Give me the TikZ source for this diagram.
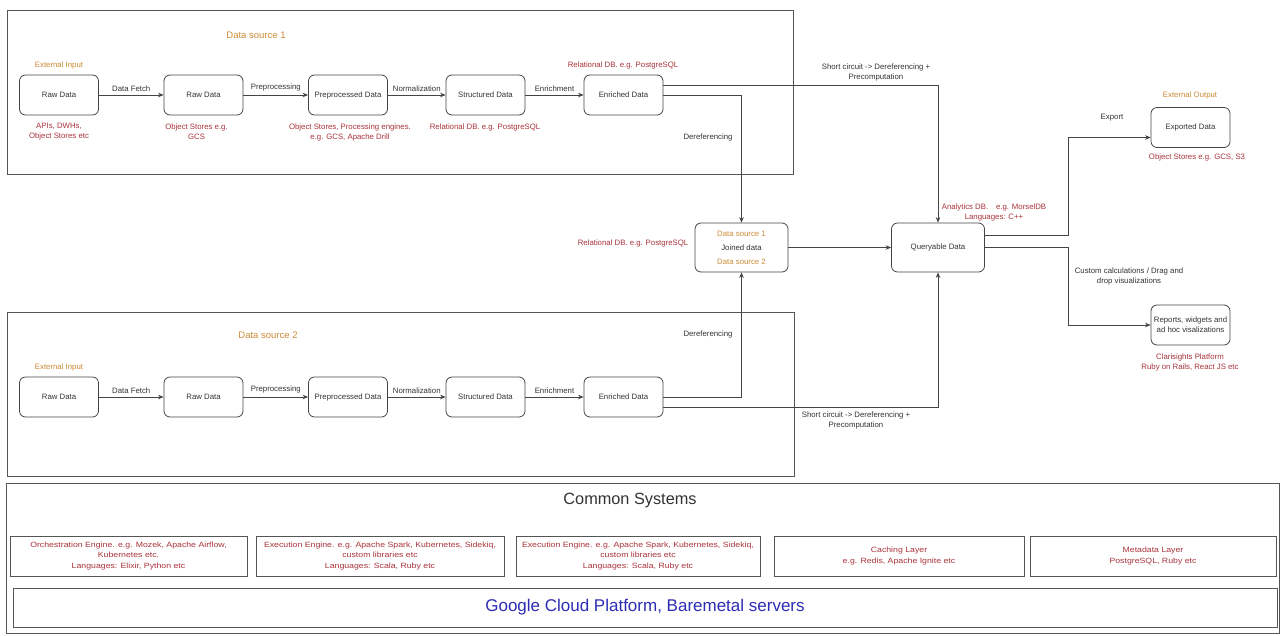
\documentclass[tikz,border=0pt]{standalone}
\usepackage{fontspec}
\setmainfont{Liberation Sans}
\newfontfamily\widesans[FakeStretch=1.15]{Liberation Sans}
\usetikzlibrary{arrows.meta}

\definecolor{linegray}{HTML}{444444}
\definecolor{framegray}{HTML}{555555}
\definecolor{textgray}{HTML}{333333}
\definecolor{srcorange}{HTML}{CC8A34}
\definecolor{techred}{HTML}{A8323A}
\definecolor{infrablue}{HTML}{2C2CB4}

\newcommand{\smalltxt}{\fontsize{7.8}{10}\selectfont}

\begin{document}
\begin{tikzpicture}[x=1pt, y=-1pt,
	frame/.style={draw=framegray, line width=0.9pt},
	databox/.style={draw=linegray, line width=0.8pt, rounded corners=6pt, minimum width=79pt, minimum height=40pt, inner sep=2pt, align=center, text=textgray, font=\smalltxt},
	hubbox/.style={databox, minimum width=93pt, minimum height=49pt},
	sysbox/.style={draw=framegray, line width=0.8pt, minimum height=40pt, inner sep=2pt, align=center, text=techred, font=\widesans\fontsize{7.6}{10.5}\selectfont},
	flow/.style={draw=linegray, line width=0.8pt, -{Stealth[length=5.5pt,width=4.5pt]}},
	steplabel/.style={above, text=textgray, font=\smalltxt, inner sep=3pt},
	plainlabel/.style={align=center, text=textgray, font=\smalltxt},
	techlabel/.style={align=center, text=techred, font=\smalltxt},
	inlabel/.style={text=srcorange, font=\smalltxt},
	srctitle/.style={text=srcorange, font=\fontsize{9.5}{11}\selectfont}]

	\useasboundingbox (0,0) rectangle (1281,635);

	% data source frames
	\draw[frame] (7,10) rectangle (793,174);
	\draw[frame] (7,312) rectangle (794,476);
	\node[srctitle] (title1) at (256,35) {Data source 1};
	\node[srctitle] (title2) at (268,335) {Data source 2};

	\foreach \s/\y in {1/95, 2/397} {
		% pipeline boxes
		\node[inlabel] (ext\s) at (59,\y-30) {External Input};
		\node[databox] (raw\s) at (59,\y) {Raw Data};
		\node[databox] (fetched\s) at (203.5,\y) {Raw Data};
		\node[databox] (prep\s) at (348,\y) {Preprocessed Data};
		\node[databox] (struct\s) at (485.5,\y) {Structured Data};
		\node[databox] (enr\s) at (623.5,\y) {Enriched Data};

		% pipeline steps
		\draw[flow] (raw\s) -- node[steplabel] {Data Fetch} (fetched\s);
		\draw[flow] (fetched\s) -- node[steplabel] {Preprocessing} (prep\s);
		\draw[flow] (prep\s) -- node[steplabel] {Normalization} (struct\s);
		\draw[flow] (struct\s) -- node[steplabel] {Enrichment} (enr\s);
	}

	% storage notes, source 1
	\node[techlabel] (apis) at (59,132) {APIs, DWHs,\\Object Stores etc};
	\node[techlabel] (objgcs) at (196.5,132) {Object Stores e.g.\\GCS};
	\node[techlabel] (objdrill) at (350,132) {Object Stores, Processing engines.\\e.g. GCS, Apache Drill};
	\node[techlabel] (relstruct) at (485,127) {Relational DB. e.g. PostgreSQL};
	\node[techlabel] (relenr) at (623,65) {Relational DB. e.g. PostgreSQL};

	% join and query
	\node[hubbox] (jd) at (741.5,247.5) {{\color{srcorange}Data source 1}\\[4pt]Joined data\\[4pt]{\color{srcorange}Data source 2}};
	\node[techlabel] (reljoin) at (633,243) {Relational DB. e.g. PostgreSQL};
	\node[hubbox] (qd) at (938,247.5) {Queryable Data};
	\node[techlabel] (analytics) at (994,212) {Analytics DB.\quad e.g. MorselDB\\Languages: C++};

	\draw[flow] (enr1.east) -| (jd.north);
	\node[plainlabel] (deref1) at (708,137) {Dereferencing};
	\draw[flow] ([yshift=10pt]enr1.east) -| (qd.north);
	\node[plainlabel] (short1) at (876,72) {Short circuit -> Dereferencing +\\Precomputation};

	\draw[flow] (enr2.east) -| (jd.south);
	\node[plainlabel] (deref2) at (708,334) {Dereferencing};
	\draw[flow] ([yshift=-10pt]enr2.east) -| (qd.south);
	\node[plainlabel] (short2) at (856,420) {Short circuit -> Dereferencing +\\Precomputation};

	\draw[flow] (jd) -- (qd);

	% outputs
	\node[databox] (exp) at (1190.5,127.5) {Exported Data};
	\node[inlabel] (extout) at (1190,95) {External Output};
	\node[techlabel] (objs3) at (1197,157) {Object Stores e.g. GCS, S3};
	\draw[flow] ([yshift=12pt]qd.east) -- ++(83,0) |- ([yshift=-10pt]exp.west);
	\node[plainlabel] (export) at (1112,118) {Export};

	\node[databox] (rep) at (1190.5,325) {Reports, widgets and\\ad hoc visalizations};
	\node[techlabel] (clari) at (1190,362) {Clarisights Platform\\Ruby on Rails, React JS etc};
	\draw[flow] (qd.east) -- ++(83,0) |- (rep.west);
	\node[plainlabel] (custom) at (1129,276) {Custom calculations / Drag and\\drop visualizations};

	% common systems
	\draw[frame] (6,483) rectangle (1279,633);
	\node[text=textgray, font=\fontsize{16.3}{19}\selectfont] (common) at (630,500) {Common Systems};
	\node[sysbox, minimum width=237pt] (orch) at (128.5,556) {Orchestration Engine. e.g. Mozek, Apache Airflow,\\Kubernetes etc.\\Languages: Elixir, Python etc};
	\node[sysbox, minimum width=248pt] (exec1) at (380,556) {Execution Engine. e.g. Apache Spark, Kubernetes, Sidekiq,\\custom libraries etc\\Languages: Scala, Ruby etc};
	\node[sysbox, minimum width=244pt] (exec2) at (638,556) {Execution Engine. e.g. Apache Spark, Kubernetes, Sidekiq,\\custom libraries etc\\Languages: Scala, Ruby etc};
	\node[sysbox, minimum width=250pt] (cache) at (899,556) {Caching Layer\\e.g. Redis, Apache Ignite etc};
	\node[sysbox, minimum width=246pt] (meta) at (1153,556) {Metadata Layer\\PostgreSQL, Ruby etc};
	\node[draw=framegray, line width=0.8pt, minimum width=1264pt, minimum height=39pt, text=infrablue, font=\fontsize{17}{20}\selectfont] (gcp) at (645,607.5) {Google Cloud Platform, Baremetal servers};
\end{tikzpicture}
\end{document}
